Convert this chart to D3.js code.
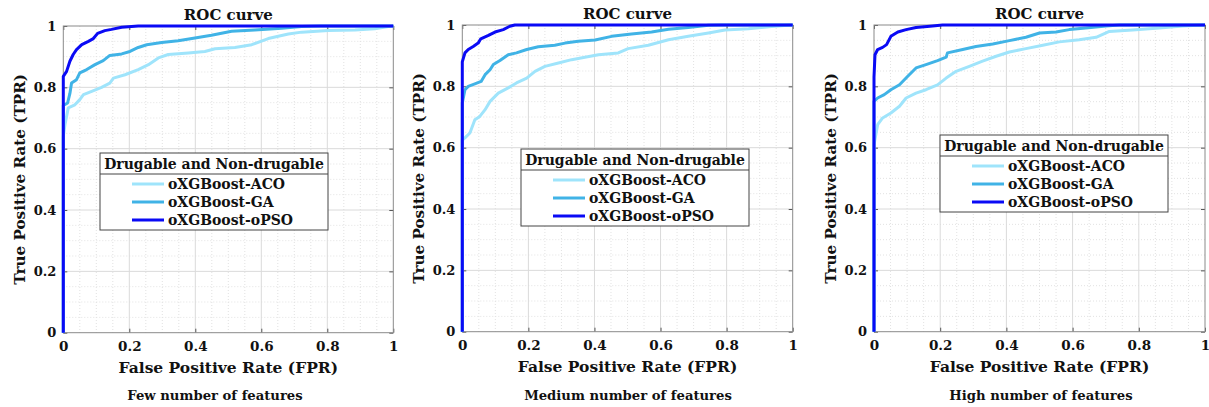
<!DOCTYPE html>
<html>
<head>
<meta charset="utf-8">
<script src="https://cdn.jsdelivr.net/npm/d3@7"></script>
<style>
  html, body { margin: 0; padding: 0; background: #fff; }
  svg { display: block; }
  text { font-family: "DejaVu Serif", "Liberation Serif", serif; font-weight: bold; fill: #111; }
</style>
</head>
<body>
<div id="chart"></div>
<script>
// series names and panel labels
var seriesNames = ["oXGBoost-ACO", "oXGBoost-GA", "oXGBoost-oPSO"];
var seriesColors = ["#9fe4fb", "#40b3e6", "#0a0af5"];
var panelTitles = ["ROC curve", "ROC curve", "ROC curve"];
var panelSubtitles = ["Few number of features", "Medium number of features", "High number of features"];
var legendTitle = "Drugable and Non-drugable";
var xLabel = "False Positive Rate (FPR)";
var yLabel = "True Positive Rate (TPR)";
var tickValues = [0, 0.2, 0.4, 0.6, 0.8, 1];
var tickLabels = ["0", "0.2", "0.4", "0.6", "0.8", "1"];

// ROC points [fpr, tpr]
var fewACO = [[0,0],[0,0.64],[0.005,0.678],[0.015,0.733],[0.035,0.743],[0.05,0.76],[0.061,0.776],[0.086,0.787],
  [0.116,0.80],[0.141,0.814],[0.152,0.83],[0.187,0.841],[0.227,0.858],[0.258,0.874],[0.288,0.896],[0.318,0.907],
  [0.379,0.912],[0.429,0.917],[0.46,0.926],[0.52,0.93],[0.571,0.939],[0.621,0.959],[0.682,0.974],[0.722,0.98],
  [0.803,0.985],[0.884,0.987],[0.944,0.991],[0.985,0.998],[1,1]];
var fewGA = [[0,0],[0,0.741],[0.013,0.749],[0.02,0.78],[0.025,0.814],[0.04,0.825],[0.05,0.847],[0.071,0.858],
  [0.096,0.874],[0.121,0.887],[0.141,0.904],[0.177,0.909],[0.202,0.917],[0.227,0.93],[0.253,0.939],[0.298,0.946],
  [0.348,0.952],[0.399,0.961],[0.449,0.97],[0.51,0.983],[0.58,0.987],[0.662,0.993],[0.722,0.998],[0.78,1],[1,1]];
var fewPSO = [[0,0],[0,0.836],[0.01,0.852],[0.02,0.885],[0.03,0.907],[0.04,0.923],[0.056,0.939],[0.076,0.95],
  [0.091,0.959],[0.104,0.976],[0.126,0.985],[0.146,0.989],[0.177,0.996],[0.227,1],[1,1]];

var mediumACO = [[0,0],[0,0.625],[0.008,0.632],[0.023,0.648],[0.038,0.691],[0.053,0.702],[0.069,0.724],[0.084,0.751],
  [0.109,0.778],[0.139,0.795],[0.164,0.811],[0.195,0.827],[0.22,0.849],[0.25,0.865],[0.291,0.876],[0.331,0.887],
  [0.371,0.895],[0.412,0.903],[0.472,0.909],[0.502,0.923],[0.563,0.934],[0.624,0.952],[0.684,0.963],[0.745,0.974],
  [0.795,0.984],[0.866,0.988],[0.936,0.995],[0.995,1],[1,1]];
var mediumGA = [[0,0],[0,0.746],[0.008,0.789],[0.018,0.8],[0.038,0.808],[0.057,0.816],[0.069,0.838],[0.084,0.854],
  [0.094,0.871],[0.114,0.884],[0.139,0.903],[0.164,0.909],[0.195,0.92],[0.23,0.929],[0.28,0.934],[0.311,0.941],
  [0.351,0.947],[0.402,0.951],[0.452,0.963],[0.512,0.971],[0.573,0.977],[0.624,0.986],[0.684,0.992],[0.745,0.999],
  [0.785,1],[1,1]];
var mediumPSO = [[0,0],[0,0.88],[0.008,0.909],[0.018,0.92],[0.033,0.93],[0.048,0.941],[0.056,0.955],[0.079,0.966],
  [0.099,0.977],[0.124,0.985],[0.144,0.996],[0.159,1],[1,1]];

var highACO = [[0,0],[0,0.61],[0.011,0.675],[0.026,0.697],[0.051,0.713],[0.077,0.735],[0.097,0.762],[0.127,0.778],
  [0.157,0.789],[0.192,0.805],[0.218,0.827],[0.248,0.849],[0.288,0.865],[0.328,0.882],[0.369,0.898],[0.409,0.912],
  [0.459,0.923],[0.51,0.934],[0.56,0.945],[0.62,0.952],[0.671,0.96],[0.711,0.979],[0.781,0.984],[0.862,0.99],
  [0.933,0.997],[0.993,1],[1,1]];
var highGA = [[0,0],[0,0.751],[0.011,0.762],[0.031,0.773],[0.051,0.789],[0.077,0.805],[0.102,0.833],[0.127,0.86],
  [0.157,0.871],[0.192,0.884],[0.218,0.895],[0.222,0.909],[0.268,0.92],[0.308,0.93],[0.359,0.938],[0.409,0.949],
  [0.459,0.96],[0.5,0.974],[0.55,0.977],[0.59,0.985],[0.64,0.99],[0.701,0.997],[0.741,1],[1,1]];
var highPSO = [[0,0],[0,0.83],[0.003,0.903],[0.011,0.92],[0.026,0.927],[0.038,0.936],[0.051,0.963],[0.072,0.977],
  [0.097,0.985],[0.127,0.992],[0.177,0.997],[0.207,1],[1,1]];

var panelSeries = [
  [fewACO, fewGA, fewPSO],
  [mediumACO, mediumGA, mediumPSO],
  [highACO, highGA, highPSO]
];

// layout (page pixels)
var panels = [
  {left: 63.3, right: 393.3, top: 26, bottom: 332.7, subX: 215, legX: 100, legY: 153},
  {left: 462.3, right: 792.7, top: 25, bottom: 331.7, subX: 628, legX: 521, legY: 149},
  {left: 874, right: 1205, top: 25, bottom: 331.7, subX: 1041, legX: 940, legY: 135}
];

var W = 1209, H = 407;
var svg = d3.select("#chart").append("svg").attr("width", W).attr("height", H);

var minorTicks = d3.range(0, 21).map(i => i / 20).filter(v => Math.round(v * 20) % 4 !== 0);

panels.forEach(function(p, pi) {
  var x = d3.scaleLinear().domain([0, 1]).range([p.left, p.right]);
  var y = d3.scaleLinear().domain([0, 1]).range([p.bottom, p.top]);
  var g = svg.append("g");

  // minor grid
  g.append("g").selectAll("line.mx").data(minorTicks).join("line")
    .attr("x1", d => x(d)).attr("x2", d => x(d)).attr("y1", p.top).attr("y2", p.bottom)
    .attr("stroke", "#e2e2e2").attr("stroke-dasharray", "1,2");
  g.append("g").selectAll("line.my").data(minorTicks).join("line")
    .attr("y1", d => y(d)).attr("y2", d => y(d)).attr("x1", p.left).attr("x2", p.right)
    .attr("stroke", "#e2e2e2").attr("stroke-dasharray", "1,2");
  // major grid
  g.append("g").selectAll("line").data(tickValues.slice(1, -1)).join("line")
    .attr("x1", d => x(d)).attr("x2", d => x(d)).attr("y1", p.top).attr("y2", p.bottom)
    .attr("stroke", "#dadada");
  g.append("g").selectAll("line").data(tickValues.slice(1, -1)).join("line")
    .attr("y1", d => y(d)).attr("y2", d => y(d)).attr("x1", p.left).attr("x2", p.right)
    .attr("stroke", "#dadada");

  // axes
  var fmt = d => tickLabels[tickValues.indexOf(d)];
  var ax = [
    g.append("g").attr("transform", `translate(0,${p.bottom})`)
      .call(d3.axisBottom(x).tickValues(tickValues).tickFormat(fmt).tickSize(-4).tickPadding(9)),
    g.append("g").attr("transform", `translate(${p.left},0)`)
      .call(d3.axisLeft(y).tickValues(tickValues).tickFormat(fmt).tickSize(-4).tickPadding(7)),
    g.append("g").attr("transform", `translate(0,${p.top})`)
      .call(d3.axisTop(x).tickValues(tickValues).tickFormat("").tickSize(-4)),
    g.append("g").attr("transform", `translate(${p.right},0)`)
      .call(d3.axisRight(y).tickValues(tickValues).tickFormat("").tickSize(-4))
  ];
  ax.forEach((a, ai) => {
    a.select(".domain").remove();
    a.selectAll(".tick line").attr("stroke", "#555");
    a.selectAll(".tick text").style("font-family", "DejaVu Serif").style("font-weight", "bold")
      .style("font-size", ai === 0 ? "13.5px" : "13px").attr("fill", "#222");
  });
  g.append("rect").attr("x", p.left).attr("y", p.top)
    .attr("width", p.right - p.left).attr("height", p.bottom - p.top)
    .attr("fill", "none").attr("stroke", "#8a8a8a");

  // curves
  var line = d3.line().x(d => x(d[0])).y(d => y(d[1]));
  panelSeries[pi].forEach(function(s, si) {
    g.append("path").datum(s).attr("d", line)
      .attr("fill", "none").attr("stroke", seriesColors[si])
      .attr("stroke-width", 3).attr("stroke-linejoin", "round");
  });

  // titles
  g.append("text").attr("x", (p.left + p.right) / 2).attr("y", p.top - 6.5)
    .attr("text-anchor", "middle").style("font-size", "15px").text(panelTitles[pi]);
  g.append("text").attr("x", (p.left + p.right) / 2).attr("y", p.bottom + 40)
    .attr("text-anchor", "middle").style("font-size", "15.5px").attr("fill", "#333").text(xLabel);
  g.append("text").attr("transform", `translate(${p.left - 38.5},${(p.top + p.bottom) / 2}) rotate(-90)`)
    .attr("text-anchor", "middle").style("font-size", "15.2px").attr("fill", "#333").text(yLabel);
  g.append("text").attr("x", p.subX).attr("y", 400)
    .attr("text-anchor", "middle").style("font-size", "13.2px").text(panelSubtitles[pi]);

  // legend
  var lg = g.append("g").attr("transform", `translate(${p.legX},${p.legY})`);
  lg.append("rect").attr("width", 228).attr("height", 77).attr("fill", "#fff").attr("stroke", "#444");
  lg.append("line").attr("x1", 0).attr("x2", 228).attr("y1", 21).attr("y2", 21).attr("stroke", "#444");
  lg.append("text").attr("x", 114).attr("y", 15.5).attr("text-anchor", "middle")
    .style("font-size", "14px").text(legendTitle);
  seriesNames.forEach(function(name, si) {
    var ry = 31 + si * 18;
    lg.append("line").attr("x1", 32).attr("x2", 64).attr("y1", ry).attr("y2", ry)
      .attr("stroke", seriesColors[si]).attr("stroke-width", 3);
    lg.append("text").attr("x", 68).attr("y", ry + 5).style("font-size", "14px").text(name);
  });
});
</script>
</body>
</html>
